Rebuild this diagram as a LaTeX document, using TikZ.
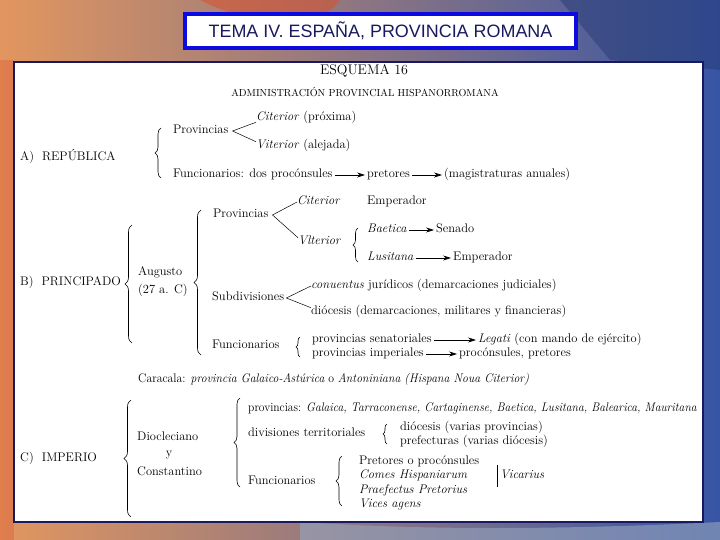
\documentclass[tikz,border=0pt]{standalone}
\usepackage{fontspec}
\newfontfamily\titlefont{Liberation Sans}
\usepackage{tikz}
\usetikzlibrary{arrows.meta}
\usetikzlibrary{decorations.pathreplacing}
\definecolor{navy}{RGB}{25,25,95}
\definecolor{titleblue}{RGB}{10,10,225}
\definecolor{paintorange}{RGB}{226,150,95}
\definecolor{paintred}{RGB}{218,80,45}
\definecolor{paintblue}{RGB}{55,85,165}
\definecolor{paintgrey}{RGB}{150,165,190}
\tikzset{
  txt/.style={anchor=west,inner sep=0pt,font=\fontsize{12.5}{14}\selectfont,text height=1.6ex,text depth=.3ex},
  lnk/.style={line width=0.5pt},
  arr/.style={line width=0.6pt,shorten <=2bp,shorten >=2bp,-{Stealth[length=8bp,width=5bp]}},
  brc/.style={decorate,decoration={brace,amplitude=#1},line width=0.6pt},
  brc/.default=6bp
}
\begin{document}
\begin{tikzpicture}[x=1bp,y=-1bp]
\useasboundingbox (0,0) rectangle (720,540);
\shade[left color=paintorange,right color=paintblue] (0,0) rectangle (720,540);
\fill[paintred,opacity=.55] (200,0) .. controls (260,30) and (320,30) .. (340,0) -- cycle;
\fill[paintblue!70!black,opacity=.5] (560,0) -- (720,0) -- (720,70) -- (610,60) -- cycle;
\fill[paintred,opacity=.35] (0,60) rectangle (14,540);
\fill[paintgrey,opacity=.6] (300,522) .. controls (420,530) and (560,530) .. (720,522) -- (720,540) -- (300,540) -- cycle;
\node[draw=titleblue,line width=4bp,fill=white,minimum width=391bp,minimum height=34bp,
  font=\titlefont\fontsize{18}{20}\selectfont,text=navy] (title) at (380.5,31) {TEMA IV. ESPAÑA, PROVINCIA ROMANA};
\draw[navy,line width=2bp,fill=white] (14,62) rectangle (703,522);
\node[font=\fontsize{14}{16}\selectfont] (esq) at (364,71) {ESQUEMA 16};
\node[font=\fontsize{10.2}{12}\selectfont] (adm) at (365,92) {ADMINISTRACIÓN PROVINCIAL HISPANORROMANA};

\node[txt] (rep) at (20,158) {A)\ \ REPÚBLICA};
\node[txt] (provA) at (173,131) {Provincias};
\node[txt] (citA) at (256,118) {\textit{Citerior} (próxima)};
\node[txt] (vitA) at (256,146) {\textit{Viterior} (alejada)};
\node[txt] (funA) at (173,175) {Funcionarios: dos procónsules};
\node[txt] (pretA) at (367,175) {pretores};
\node[txt] (magA) at (444,175) {(magistraturas anuales)};
\draw[brc] (161,178) -- (161,128);
\draw[lnk] ([xshift=4bp]provA.east) -- (citA.south west);
\draw[lnk] ([xshift=4bp]provA.east) -- (vitA.north west);
\draw[arr] (funA.east) -- (pretA.west);
\draw[arr] (pretA.east) -- (magA.west);

\node[txt] (prin) at (20,283) {B)\ \ PRINCIPADO};
\node[txt] (aug) at (138,273) {Augusto};
\node[txt] (aug27) at (138,291) {(27 a. C)};
\node[txt] (provB) at (213,215) {Provincias};
\node[txt] (citB) at (297,202) {\textit{Citerior}};
\node[txt] (empB) at (367,202) {Emperador};
\node[txt] (vltB) at (298,242) {\textit{Vlterior}};
\node[txt] (baeB) at (367,230) {\textit{Baetica}};
\node[txt] (senB) at (436,230) {Senado};
\node[txt] (lusB) at (367,258) {\textit{Lusitana}};
\node[txt] (emp2B) at (453,258) {Emperador};
\node[txt] (subB) at (212,298) {Subdivisiones};
\node[txt] (conB) at (311,286) {\textit{conuentus} jurídicos (demarcaciones judiciales)};
\node[txt] (dioB) at (311,312) {diócesis (demarcaciones, militares y financieras)};
\node[txt] (funB) at (212,346) {Funcionarios};
\node[txt] (senatB) at (312,340) {provincias senatoriales};
\node[txt] (legB) at (478,340) {\textit{Legati} (con mando de ejército)};
\node[txt] (impB) at (312,354) {provincias imperiales};
\node[txt] (procB) at (459,354) {procónsules, pretores};
\draw[brc=7bp] (132,343) -- (132,225);
\draw[brc=7bp] (201,355) -- (201,210);
\draw[brc=5bp] (358,262) -- (358,228);
\draw[brc=4bp] (300,357) -- (300,337);
\draw[lnk] ([xshift=4bp]provB.east) -- (citB.west);
\draw[lnk] ([xshift=4bp]provB.east) -- (vltB.north west);
\draw[lnk] ([xshift=2bp]subB.east) -- (conB.west);
\draw[lnk] ([xshift=2bp]subB.east) -- (dioB.north west);
\draw[arr] (baeB.east) -- (senB.west);
\draw[arr] (lusB.east) -- (emp2B.west);
\draw[arr] (senatB.east) -- (legB.west);
\draw[arr] (impB.east) -- (procB.west);

\node[txt] (cara) at (138,380) {\scalebox{0.945}[1]{Caracala: \textit{provincia Galaico-Astúrica} o \textit{Antoniniana (Hispana Noua Citerior)}}};

\node[txt] (imp) at (20,459) {C)\ \ IMPERIO};
\node[txt] (dio) at (137,438) {Diocleciano};
\node[anchor=center,inner sep=0pt,font=\fontsize{12.5}{14}\selectfont] (yC) at (169,455) {y};
\node[txt] (con) at (137,473) {Constantino};
\node[txt] (provC) at (248,409) {\scalebox{0.93}[1]{provincias: \textit{Galaica, Tarraconense, Cartaginense, Baetica, Lusitana, Balearica, Mauritana}}};
\node[txt] (divC) at (248,434) {divisiones territoriales};
\node[txt] (dioC) at (400,428) {diócesis (varias provincias)};
\node[txt] (prefC) at (400,442) {prefecturas (varias diócesis)};
\node[txt] (funC) at (248,482) {Funcionarios};
\node[txt] (pretC) at (359,462) {Pretores o procónsules};
\node[txt] (comC) at (359,476) {\textit{Comes Hispaniarum}};
\node[txt] (praeC) at (359,491) {\textit{Praefectus Pretorius}};
\node[txt] (vicC) at (359,505) {\textit{Vices agens}};
\node[txt] (vicar) at (500,476) {\textit{Vicarius}};
\draw[brc=7bp] (131,517) -- (131,400);
\draw[brc=6bp] (240,487) -- (240,398);
\draw[brc=4bp] (387,444) -- (387,424);
\draw[brc=6bp] (342,506) -- (342,456);
\draw[lnk] ([xshift=-3bp]vicar.west) ++(0,-11) -- ++(0,22);
\end{tikzpicture}
\end{document}
